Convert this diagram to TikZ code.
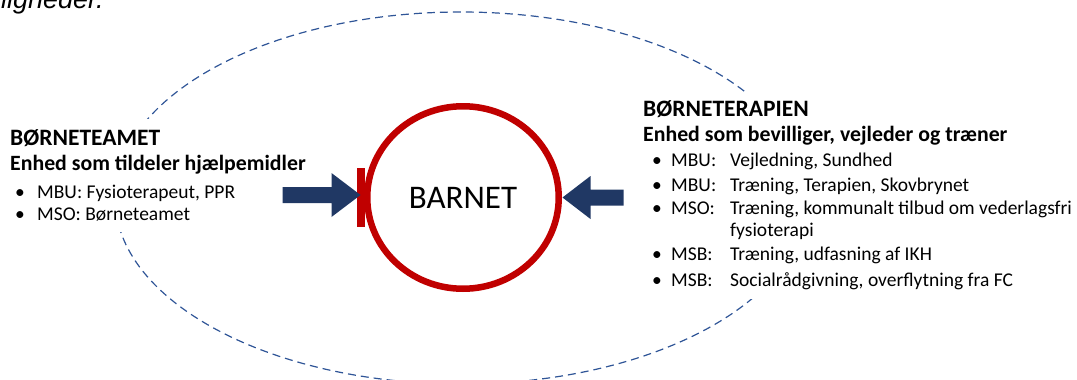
\documentclass[tikz,border=0pt]{standalone}
\usepackage{fontspec}
\setmainfont{Carlito}
\newfontfamily\arialfont{Liberation Sans}
\usetikzlibrary{shapes.geometric,calc}
\definecolor{navy}{RGB}{32,56,100}
\definecolor{cred}{RGB}{192,0,0}
\definecolor{dashblue}{RGB}{47,85,151}
\begin{document}
\begin{tikzpicture}[x=1pt,y=-1pt,
  capstxt/.style={anchor=base west, inner sep=0pt, font=\fontsize{23.5}{26}\selectfont\bfseries},
  headtxt/.style={anchor=base west, inner sep=0pt, font=\fontsize{21.8}{26}\selectfont\bfseries},
  itemtxt/.style={anchor=base west, inner sep=0pt, font=\fontsize{19.5}{23}\selectfont},
  cover/.style={fill=white, anchor=north west, inner sep=0pt},
  blockarrow/.style={fill=navy},
]
\useasboundingbox (0,0) rectangle (1077,380);
% cut-off heading text at top
\node[anchor=base west, inner sep=0pt, font=\arialfont\itshape\fontsize{27}{30}\selectfont] (toptext) at (1,9) {ligneder.};
% dashed ellipse
\draw[dashblue, line width=1.2pt, dash pattern=on 8pt off 5pt] (461,198) ellipse [x radius=346, y radius=186];
% text boxes (white)
\node[cover, minimum width=312pt, minimum height=113pt] (leftbox) at (0,119) {};
\node[cover, minimum width=440pt, minimum height=207pt] (rightbox) at (637,92) {};
% left text
\node[capstxt] (lh1) at (10,145) {BØRNETEAMET};
\node[headtxt] (lh2) at (10,170) {Enhed som tildeler hjælpemidler};
\node[itemtxt] (lb1) at (15,198) {•};
\node[itemtxt] (li1) at (37,198) {MBU: Fysioterapeut, PPR};
\node[itemtxt] (lb2) at (15,220) {•};
\node[itemtxt] (li2) at (37,220) {MSO: Børneteamet};
% right text
\node[capstxt] (rh1) at (643,116) {BØRNETERAPIEN};
\node[headtxt] (rh2) at (643,141) {Enhed som bevilliger, vejleder og træner};
\foreach \y/\k/\t [count=\i] in {166/MBU:/{Vejledning, Sundhed},191/MBU:/{Træning, Terapien, Skovbrynet},214/MSO:/{Træning, kommunalt tilbud om vederlagsfri},260/MSB:/{Træning, udfasning af IKH},286/MSB:/{Socialrådgivning, overflytning fra FC}}{
  \node[itemtxt] (rb\i) at (652,\y) {•};
  \node[itemtxt] (rk\i) at (671,\y) {\k};
  \node[itemtxt] (rt\i) at (730,\y) {\t};
}
\node[itemtxt] (rt3b) at (730,236) {fysioterapi};
% central circle
\node[ellipse, draw=cred, line width=6.5pt, minimum width=191.5pt, minimum height=182.5pt, inner sep=0pt, font=\fontsize{33}{40}\selectfont] (barnet) at (463,197.5) {BARNET};
\fill[cred] ($(barnet.west)+(-7.5,-29.5)$) rectangle ($(barnet.west)+(0.5,29.5)$);
% arrows
\coordinate (ltip) at ($(barnet.west)+(-3.5,-2.5)$);
\fill[blockarrow] (ltip) -- ++(-29,-22) -- ++(0,14) -- ++(-49,0) -- ++(0,16) -- ++(49,0) -- ++(0,14) -- cycle;
\coordinate (rtip) at ($(barnet.east)+(0.5,0)$);
\fill[blockarrow] (rtip) -- ++(28,-21.5) -- ++(0,13.5) -- ++(33,0) -- ++(0,16) -- ++(-33,0) -- ++(0,13.5) -- cycle;
\end{tikzpicture}
\end{document}
